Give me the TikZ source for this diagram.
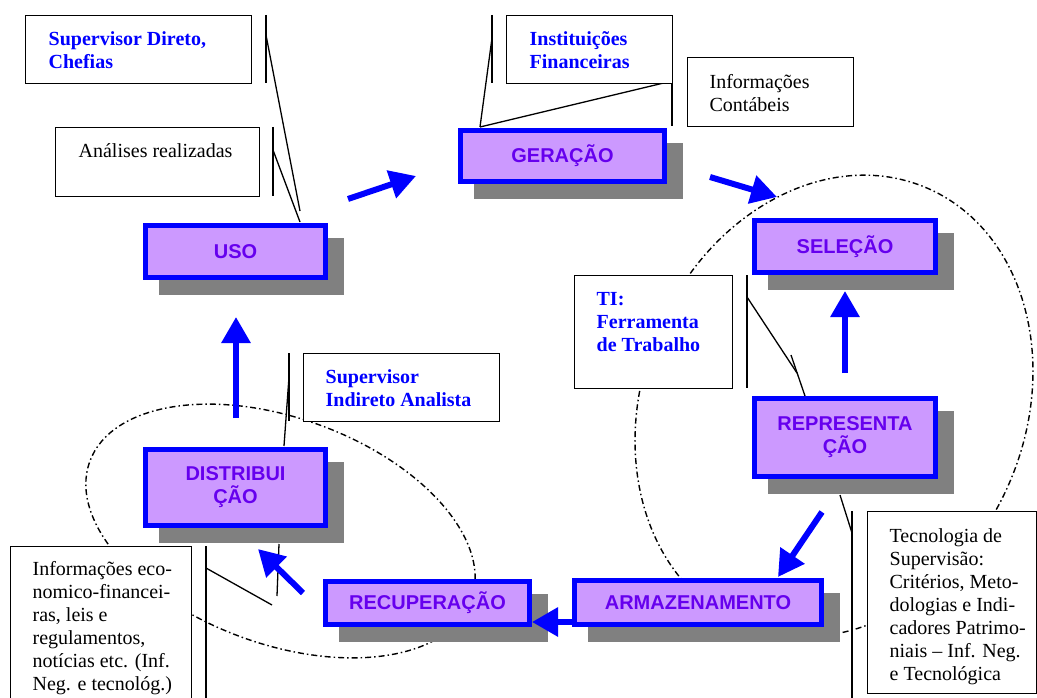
\documentclass[tikz,border=0pt]{standalone}
\usepackage{fontspec}
\setmainfont{Liberation Serif}
\newfontfamily\boxfont{Liberation Sans}
\usetikzlibrary{arrows.meta,calc}
\pgfdeclarelayer{ovals}
\pgfdeclarelayer{shadows}
\pgfsetlayers{ovals,shadows,main}

\definecolor{stepfill}{RGB}{204,153,255}
\definecolor{steptext}{RGB}{102,0,238}
\definecolor{shadowgray}{RGB}{128,128,128}
\definecolor{noteblue}{RGB}{0,0,255}

% note text: width, height, left pad, first baseline, lines
\newcommand\notetext[5]{\parbox[c][#2][t]{#1}{\leftskip=#3\rightskip=0pt plus 1fil\parindent=0pt\fontsize{20}{23}\selectfont\rule{0pt}{#4}#5}}

\begin{document}
\begin{tikzpicture}[x=1pt,y=-1pt,
  stepbox/.style={draw=blue, line width=5pt, fill=stepfill, text=steptext,
    font={\boxfont\bfseries\fontsize{20}{23}\selectfont}, align=center, inner sep=0pt},
  notebox/.style={draw=black, line width=1.3pt, fill=white, inner sep=0pt, anchor=north west},
  leader/.style={line width=1.3pt, draw=black},
  flow/.style={draw=blue, line width=6pt, -{Triangle[length=26pt,width=28pt]}},
  oval/.style={line width=1.4pt, dash pattern=on 6pt off 3pt on 1.5pt off 3pt}]

\useasboundingbox (0,0) rectangle (1037,698);

\begin{pgfonlayer}{ovals}
  \fill[white] (0,0) rectangle (1037,698);
  \draw[oval, rotate around={-22.7:(834,406)}] (834,406) ellipse [x radius=191.5, y radius=237];
  \draw[oval, rotate around={-20:(280.5,531)}] (280.5,531) ellipse [x radius=203, y radius=113];
\end{pgfonlayer}

% leader lines of the notes
\draw[leader] (266,15) -- (266,83);
\draw[leader] (266,35) -- (300,211);
\draw[leader] (273,127) -- (273,196);
\draw[leader] (273,150) -- (300,222);
\draw[leader] (492,15) -- (492,83);
\draw[leader] (492,38) -- (480,127);
\draw[leader] (672,57) -- (672,126);
\draw[leader] (672,81) -- (480,127);
\draw[leader] (747,275) -- (747,388);
\draw[leader] (747,297) -- (797,373);
\draw[leader] (791,355) -- (805,396);
\draw[leader] (289,353) -- (289,421);
\draw[leader] (289,377) -- (284,446);
\draw[leader] (206,546) -- (206,700);
\draw[leader] (206,568) -- (272,605);
\draw[leader] (279,544) -- (277,596);
\draw[leader] (852,511) -- (852,700);
\draw[leader] (840,495) -- (852,533);

% process steps
\node[stepbox, minimum width=180pt, minimum height=52pt] (uso) at (235.5,251.5) {USO};
\node[stepbox, minimum width=204pt, minimum height=51pt] (ger) at (562.5,156) {GERAÇÃO};
\node[stepbox, minimum width=181pt, minimum height=52pt] (sel) at (845,246.5) {SELEÇÃO};
\node[stepbox, minimum width=181pt, minimum height=78pt] (rep) at (845,437.5) {REPRESENTA\\ÇÃO};
\node[stepbox, minimum width=247pt, minimum height=44pt] (arm) at (698,602.5) {ARMAZENAMENTO};
\node[stepbox, minimum width=204pt, minimum height=43pt] (rec) at (427.5,603) {RECUPERAÇÃO};
\node[stepbox, minimum width=180pt, minimum height=76pt] (dis) at (235.5,487.5) {DISTRIBUI\\ÇÃO};

\begin{pgfonlayer}{shadows}
  \foreach \n in {uso,ger,sel,rep,arm,rec,dis}
    \fill[shadowgray] ($(\n.north west)+(15.5,15)$) rectangle ($(\n.south east)+(15.5,15)$);
\end{pgfonlayer}

% notes
\node[notebox] (sdir) at (25,15) {\notetext{226pt}{68pt}{23pt}{30pt}{\color{noteblue}\bfseries Supervisor Direto,\\Chefias}};
\node[notebox] (anal) at (55,127) {\notetext{204pt}{69pt}{23pt}{30pt}{Análises realizadas}};
\node[notebox] (inst) at (506,15) {\notetext{166pt}{68pt}{23pt}{30pt}{\color{noteblue}\bfseries Instituições\\Financeiras}};
\node[notebox] (cont) at (687,57) {\notetext{166pt}{69pt}{22pt}{31pt}{Informações\\Contábeis}};
\node[notebox] (ti) at (574,275) {\notetext{158pt}{113pt}{22pt}{30pt}{\color{noteblue}\bfseries TI:\\Ferramenta\\de Trabalho}};
\node[notebox] (sind) at (303,353) {\notetext{196pt}{68pt}{22pt}{30pt}{\color{noteblue}\bfseries Supervisor\\Indireto Analista}};
\node[notebox] (ieco) at (10,546) {\notetext{181pt}{170pt}{22pt}{29pt}{Informações eco-\\nomico-financei-\\ras, leis e\\regulamentos,\\notícias etc. (Inf.\\Neg. e tecnológ.)}};
\node[notebox] (tec) at (867,511) {\notetext{169pt}{182pt}{22pt}{31pt}{Tecnologia de\\Supervisão:\\Critérios, Meto-\\dologias e Indi-\\cadores Patrimo-\\niais – Inf. Neg.\\e Tecnológica}};

% flow arrows
\coordinate (a1s) at (348,199);  \coordinate (a1e) at (416,176);
\coordinate (a2s) at (710,177);  \coordinate (a2e) at (777,197);
\coordinate (a3s) at (845,373);  \coordinate (a3e) at (845,291);
\coordinate (a4s) at (822,512);  \coordinate (a4e) at (778,577);
\coordinate (a5s) at (arm.west |- 0,622); \coordinate (a5e) at (rec.east |- 0,622);
\coordinate (a6s) at (303,593);  \coordinate (a6e) at (258,549);
\coordinate (a7s) at (236,418);  \coordinate (a7e) at (236,317);
\draw[flow] (a1s) -- (a1e);
\draw[flow] (a2s) -- (a2e);
\draw[flow] (a3s) -- (a3e);
\draw[flow] (a4s) -- (a4e);
\draw[flow] (a5s) -- (a5e);
\draw[flow] (a6s) -- (a6e);
\draw[flow] (a7s) -- (a7e);
\end{tikzpicture}
\end{document}
